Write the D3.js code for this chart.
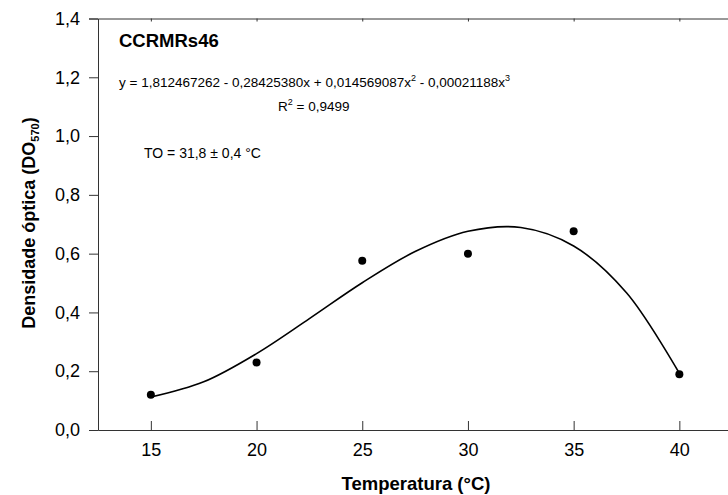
<!DOCTYPE html>
<html>
<head>
<meta charset="utf-8">
<script src="https://cdn.jsdelivr.net/npm/d3@7"></script>
<style>
  body { margin: 0; background: #fff; }
  text { font-family: Arial, "Liberation Sans", sans-serif; fill: #000; }
</style>
</head>
<body>
  <script>
    // pontos medidos
    const temps = [15, 20, 25, 30, 35, 40];
    const densidade = [0.12, 0.23, 0.576, 0.60, 0.676, 0.19];

    // curva ajustada
    const curvaX = [15, 17.5, 20, 22.5, 25, 27.5, 30, 32.5, 35, 37.5, 40];
    const curvaY = [0.112, 0.164, 0.260, 0.379, 0.501, 0.607, 0.676, 0.689, 0.626, 0.467, 0.193];

    const xTicks = [15, 20, 25, 30, 35, 40];
    const yTicks = [0, 0.2, 0.4, 0.6, 0.8, 1.0, 1.2, 1.4];

    const w = 728;
    const h = 495;
    const mLeft = 98, mTop = 18.5, mBottom = 430;

    const xScale = d3.scaleLinear()
                     .domain([12.5, 45])
                     .range([mLeft, mLeft + 32.5 * 21.14]);

    const yScale = d3.scaleLinear()
                     .domain([0, 1.4])
                     .range([mBottom, mTop]);

    const fmt = (d) => d3.format(".1f")(d).replace(".", ",");

    const svg = d3.select("body")
                  .append("svg")
                  .attr("width", w)
                  .attr("height", h);

    // eixo x (ticks para dentro)
    const gx = svg.append("g")
       .attr("transform", "translate(0," + mBottom + ")")
       .call(d3.axisBottom(xScale).tickValues(xTicks).tickSizeInner(-9).tickSizeOuter(0).tickPadding(13));
    gx.selectAll("text").attr("font-size", 18);

    // eixo superior
    svg.append("g")
       .attr("transform", "translate(0," + mTop + ")")
       .call(d3.axisTop(xScale).tickValues(xTicks).tickSizeInner(-3).tickSizeOuter(0).tickFormat(""));

    // eixo y
    const gy = svg.append("g")
       .attr("transform", "translate(" + mLeft + ",0)")
       .call(d3.axisLeft(yScale).tickValues(yTicks).tickSize(9).tickPadding(9).tickFormat(fmt));
    gy.selectAll("text").attr("font-size", 18);

    svg.selectAll(".domain, .tick line").attr("stroke", "#333");

    // curva
    const line = d3.line()
                   .x((d, i) => xScale(curvaX[i]))
                   .y((d) => yScale(d))
                   .curve(d3.curveCatmullRom);

    svg.append("path")
       .datum(curvaY)
       .attr("d", line)
       .attr("fill", "none")
       .attr("stroke", "#000")
       .attr("stroke-width", 1.6);

    svg.selectAll("circle")
       .data(densidade)
       .enter()
       .append("circle")
       .attr("cx", (d, i) => xScale(temps[i]))
       .attr("cy", (d) => yScale(d))
       .attr("r", 4)
       .attr("fill", "#000");

    // titulos
    svg.append("text")
       .attr("x", 416).attr("y", 490)
       .attr("text-anchor", "middle")
       .attr("font-size", 18.5).attr("font-weight", "bold")
       .text("Temperatura (°C)");

    const yt = svg.append("text")
       .attr("transform", "translate(35,223) rotate(-90)")
       .attr("text-anchor", "middle")
       .attr("font-size", 18).attr("font-weight", "bold");
    yt.append("tspan").text("Densidade óptica (DO");
    yt.append("tspan").attr("font-size", 11).attr("dy", 4).text("570");
    yt.append("tspan").attr("dy", -4).text(")");

    svg.append("text")
       .attr("x", 119).attr("y", 47)
       .attr("font-size", 18.5).attr("font-weight", "bold")
       .text("CCRMRs46");

    const eq = svg.append("text")
       .attr("x", 119).attr("y", 87)
       .attr("font-size", 13.5);
    eq.append("tspan").text("y = 1,812467262 - 0,28425380x + 0,014569087x");
    eq.append("tspan").attr("font-size", 9).attr("dy", -6).text("2");
    eq.append("tspan").attr("dy", 6).text(" - 0,00021188x");
    eq.append("tspan").attr("font-size", 9).attr("dy", -6).text("3");

    const r2 = svg.append("text")
       .attr("x", 278).attr("y", 111)
       .attr("font-size", 13.5);
    r2.append("tspan").text("R");
    r2.append("tspan").attr("font-size", 9).attr("dy", -6).text("2");
    r2.append("tspan").attr("dy", 6).text(" = 0,9499");

    svg.append("text")
       .attr("x", 144).attr("y", 158)
       .attr("font-size", 14)
       .text("TO = 31,8 ± 0,4 °C");
  </script>
</body>
</html>
